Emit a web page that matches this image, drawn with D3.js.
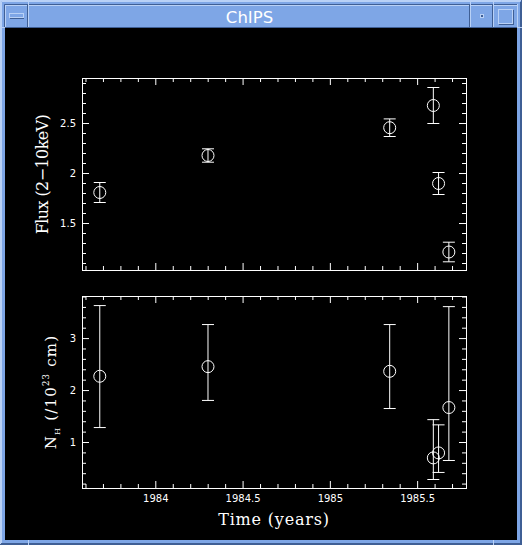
<!DOCTYPE html>
<html><head><meta charset="utf-8">
<script src="https://cdn.jsdelivr.net/npm/d3@7"></script>
<style>html,body{margin:0;padding:0;background:#7ea6e6;overflow:hidden}svg{display:block}</style>
</head><body><script>
// ---- data ----
const years   = [1983.679, 1984.299, 1985.340, 1985.590, 1985.620, 1985.679];
const flux    = [1.81, 2.18, 2.458, 2.68, 1.90, 1.215];
const fluxErr = [0.10, 0.067, 0.088, 0.18, 0.11, 0.098];
const nh      = [2.275, 2.46, 2.37, 0.704, 0.80, 1.673];
const nhLo    = [1.288, 1.81, 1.654, 0.288, 0.424, 0.654];
const nhHi    = [3.635, 3.27, 3.27, 1.44, 1.34, 3.615];

const xTicks      = [1984, 1984.5, 1985, 1985.5];
const xTickLabels = ["1984", "1984.5", "1985", "1985.5"];
const fluxTicks      = [1.5, 2, 2.5];
const fluxTickLabels = ["1.5", "2", "2.5"];
const nhTicks      = [1, 2, 3];
const nhTickLabels = ["1", "2", "3"];
const xDomain    = [1983.58, 1985.78];
const fluxDomain = [1.03, 2.95];
const nhDomain   = [0.115, 3.81];

const W = 522, H = 545;
const LIGHT = "#b9d1f6", BASE = "#7ea6e6", DARK = "#3f5f95";

const svg = d3.select("body").append("svg").attr("width", W).attr("height", H);

// ---- window chrome ----
svg.append("rect").attr("width", W).attr("height", H).attr("fill", BASE);
const ln = (x1, y1, x2, y2, c) => svg.append("line").attr("x1", x1).attr("y1", y1).attr("x2", x2).attr("y2", y2).attr("stroke", c).attr("stroke-width", 1);
ln(0, 0.5, W, 0.5, LIGHT); ln(0.5, 0, 0.5, H, LIGHT);
ln(1.5, 1.5, W - 2, 1.5, LIGHT); ln(1.5, 1.5, 1.5, H - 2, LIGHT);
ln(W - 0.5, 0, W - 0.5, H, DARK); ln(0, H - 0.5, W, H - 0.5, DARK);
ln(W - 1.5, 2, W - 1.5, H - 1, DARK); ln(1, H - 1.5, W - 1, H - 1.5, DARK);
// title bar
ln(4.5, 4.5, 517, 4.5, DARK); ln(4.5, 4.5, 4.5, 28, DARK);
ln(5, 5.5, 517, 5.5, LIGHT); ln(5.5, 5, 5.5, 27, LIGHT);
ln(5, 27.5, 518, 27.5, DARK); ln(517.5, 4, 517.5, 28, LIGHT);
[28.5, 470.5, 493.5].forEach(xx => { ln(xx - 1, 5, xx - 1, 27, DARK); ln(xx, 0, xx, 27, LIGHT); });
ln(28.5, 540, 28.5, H, LIGHT); ln(493.5, 540, 493.5, H, LIGHT);
ln(0, 27.5, 5, 27.5, LIGHT); ln(517, 27.5, W, 27.5, LIGHT);
// buttons
svg.append("rect").attr("x", 9.5).attr("y", 13.5).attr("width", 14).attr("height", 4).attr("fill", BASE).attr("stroke", LIGHT);
ln(10, 18.5, 24, 18.5, DARK);
svg.append("rect").attr("x", 480.5).attr("y", 14.5).attr("width", 3).attr("height", 3).attr("fill", DARK).attr("stroke", LIGHT);
svg.append("rect").attr("x", 498.5).attr("y", 9.5).attr("width", 14).attr("height", 14).attr("fill", BASE).attr("stroke", LIGHT);
ln(499, 24.5, 513, 24.5, DARK); ln(513.5, 10, 513.5, 25, DARK);
svg.append("text").attr("x", 249.5).attr("y", 23).attr("text-anchor", "middle")
  .attr("font-family", "DejaVu Sans").attr("font-size", 16.5).attr("fill", "#fff").text("ChIPS");

// content area
svg.append("rect").attr("x", 5).attr("y", 28).attr("width", 512).attr("height", 512).attr("fill", "#000");

// ---- scales ----
const x = d3.scaleLinear().domain(xDomain).range([82, 466]);
const yTop = d3.scaleLinear().domain(fluxDomain).range([270, 78]);
const yBot = d3.scaleLinear().domain(nhDomain).range([488, 296]);

const xMinor = d3.range(19836, 19858).filter(v => v % 5 !== 0).map(v => v / 10);
const fluxMinor = d3.range(11, 30).filter(v => v % 5 !== 0).map(v => v / 10);
const nhMinor = d3.range(2, 39, 2).filter(v => v % 10 !== 0).map(v => v / 10);

function panel(y, yMajor, yMinor, yLabels, showX) {
  const g = svg.append("g").attr("color", "#fff");
  const [x0, x1] = x.range();
  const [y0, y1] = y.range();
  const ax = (axis, tx, ty) => {
    const a = g.append("g").attr("transform", `translate(${tx},${ty})`).call(axis);
    a.select(".domain").remove();
    a.selectAll("line").attr("stroke", "#fff");
    a.selectAll("text").attr("fill", "#fff").attr("font-family", "DejaVu Sans").attr("font-size", 10);
    return a;
  };
  ax(d3.axisBottom(x).tickValues(xTicks).tickSize(-7).tickPadding(7).tickFormat((d, i) => showX ? xTickLabels[i] : ""), 0, y0);
  ax(d3.axisBottom(x).tickValues(xMinor).tickSize(-4).tickFormat(""), 0, y0);
  ax(d3.axisTop(x).tickValues(xTicks).tickSize(-7).tickFormat(""), 0, y1);
  ax(d3.axisTop(x).tickValues(xMinor).tickSize(-4).tickFormat(""), 0, y1);
  ax(d3.axisLeft(y).tickValues(yMajor).tickSize(-7).tickPadding(6).tickFormat((d, i) => yLabels[i]), x0, 0);
  ax(d3.axisLeft(y).tickValues(yMinor).tickSize(-4).tickFormat(""), x0, 0);
  ax(d3.axisRight(y).tickValues(yMajor).tickSize(-7).tickFormat(""), x1, 0);
  ax(d3.axisRight(y).tickValues(yMinor).tickSize(-4).tickFormat(""), x1, 0);
  g.append("rect").attr("x", x0 + 0.5).attr("y", y1 + 0.5).attr("width", x1 - x0).attr("height", y0 - y1)
    .attr("fill", "none").attr("stroke", "#fff");
  return g;
}

function errorPoints(y, vals, lo, hi) {
  const g = svg.append("g").attr("transform", "translate(0.5,0.5)")
    .attr("stroke", "#fff").attr("fill", "none").attr("stroke-width", 1);
  const pts = g.selectAll("g.pt").data(years.map((t, i) => ({ t, v: vals[i], lo: lo[i], hi: hi[i] })))
    .join("g").attr("class", "pt");
  pts.append("line").attr("x1", d => x(d.t)).attr("x2", d => x(d.t)).attr("y1", d => y(d.lo)).attr("y2", d => y(d.hi));
  pts.append("line").attr("x1", d => x(d.t) - 6).attr("x2", d => x(d.t) + 6).attr("y1", d => y(d.lo)).attr("y2", d => y(d.lo));
  pts.append("line").attr("x1", d => x(d.t) - 6).attr("x2", d => x(d.t) + 6).attr("y1", d => y(d.hi)).attr("y2", d => y(d.hi));
  pts.append("circle").attr("cx", d => x(d.t)).attr("cy", d => y(d.v)).attr("r", 6);
}

panel(yTop, fluxTicks, fluxMinor, fluxTickLabels, false);
panel(yBot, nhTicks, nhMinor, nhTickLabels, true);
errorPoints(yTop, flux, flux.map((v, i) => v - fluxErr[i]), flux.map((v, i) => v + fluxErr[i]));
errorPoints(yBot, nh, nhLo, nhHi);

// ---- axis titles ----
svg.append("text").attr("x", 274).attr("y", 525).attr("text-anchor", "middle")
  .attr("font-family", "DejaVu Serif").attr("font-size", 16).attr("letter-spacing", 0.8)
  .attr("fill", "#fff").text("Time (years)");

svg.append("text").attr("transform", "translate(48,174.5) rotate(-90)").attr("text-anchor", "middle")
  .attr("font-family", "DejaVu Serif").attr("font-size", 16).attr("letter-spacing", -0.6)
  .attr("fill", "#fff").text("Flux (2\u221210keV)");

const nt = svg.append("text").attr("transform", "translate(56,392) rotate(-90)").attr("text-anchor", "middle")
  .attr("font-family", "DejaVu Serif").attr("font-size", 15).attr("letter-spacing", 1.2).attr("fill", "#fff");
nt.append("tspan").text("N");
nt.append("tspan").attr("dy", 4).attr("font-size", 8).text("H");
nt.append("tspan").attr("dy", -4).text(" (/10");
nt.append("tspan").attr("dy", -7).attr("font-size", 8.5).text("23");
nt.append("tspan").attr("dy", 7).text(" cm)");
</script></body></html>
